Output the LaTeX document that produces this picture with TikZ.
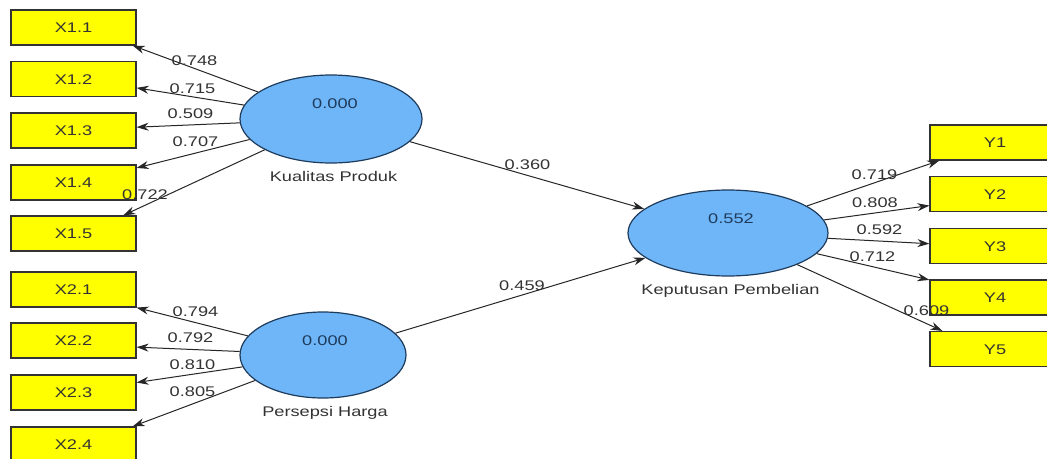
\documentclass[tikz,border=0pt]{standalone}
\usepackage{fontspec}
\setmainfont{Liberation Sans}[FakeStretch=1.3]
\usetikzlibrary{arrows.meta}
\definecolor{boxyellow}{HTML}{FFFF00}
\definecolor{ellblue}{HTML}{6EB6F8}
\definecolor{navy}{HTML}{1F3B5C}
\definecolor{txtgrey}{HTML}{333333}
\tikzset{
  ind/.style={draw=txtgrey, line width=1.2pt, fill=boxyellow, minimum width=125pt, minimum height=35pt, inner sep=0pt, font=\fontsize{14pt}{16pt}\selectfont, text=txtgrey, text height=10pt, text depth=0pt},
  indy/.style={ind, minimum width=130pt},
  lat/.style={ellipse, draw=navy, line width=1.2pt, fill=ellblue, inner sep=0pt},
  val/.style={font=\fontsize{14pt}{16pt}\selectfont, text=navy, text height=10pt, text depth=0pt, inner sep=0pt},
  nm/.style={font=\fontsize{14pt}{16pt}\selectfont, text=txtgrey, text height=10pt, text depth=0pt, inner sep=0pt},
  lbl/.style={font=\fontsize{14pt}{16pt}\selectfont, text=txtgrey, text height=10pt, text depth=0pt, inner sep=0pt},
  arr/.style={draw=black!85, line width=1pt, -{Stealth[length=12pt,width=8pt]}}
}
\usetikzlibrary{shapes.geometric}
\begin{document}
\begin{tikzpicture}[x=1pt,y=-1pt]
\clip (0,0) rectangle (1047,458);
\fill[white] (0,0) rectangle (1047,458);
% indicator boxes
\node[ind] (x11) at (73.5,27.5) {X1.1};
\node[ind] (x12) at (73.5,79) {X1.2};
\node[ind] (x13) at (73.5,130.5) {X1.3};
\node[ind] (x14) at (73.5,182.5) {X1.4};
\node[ind] (x15) at (73.5,233.5) {X1.5};
\node[ind] (x21) at (73.5,289.5) {X2.1};
\node[ind] (x22) at (73.5,340.5) {X2.2};
\node[ind] (x23) at (73.5,392.5) {X2.3};
\node[ind] (x24) at (73.5,444.5) {X2.4};
\node[indy] (y1) at (995,142.5) {Y1};
\node[indy] (y2) at (995,194) {Y2};
\node[indy] (y3) at (995,246) {Y3};
\node[indy] (y4) at (995,297.5) {Y4};
\node[indy] (y5) at (995,349) {Y5};
% latent variables
\node[lat, minimum width=182pt, minimum height=88pt] (kp) at (331,119) {};
\node[lat, minimum width=166pt, minimum height=86pt] (ph) at (323,355) {};
\node[lat, minimum width=200pt, minimum height=86pt] (kep) at (728,233) {};
\node[val] (kpv) at (335,103.5) {0.000};
\node[val] (phv) at (325,340) {0.000};
\node[val] (kepv) at (731,218.5) {0.552};
\node[nm] (kpn) at (333.5,176) {Kualitas Produk};
\node[nm] (phn) at (325,411) {Persepsi Harga};
\node[nm] (kepn) at (730.5,289) {Keputusan Pembelian};
% outer loadings
\draw[arr] (kp) -- (x11.-17);
\draw[arr] (kp) -- (x12.-8);
\draw[arr] (kp) -- (x13.3);
\draw[arr] (kp) -- (x14.13);
\draw[arr] (kp) -- (x15.20);
\draw[arr] (ph) -- (x21.-16);
\draw[arr] (ph) -- (x22.-6);
\draw[arr] (ph) -- (x23.9);
\draw[arr] (ph) -- (x24.17);
\draw[arr] (kep) -- (y1.198);
\draw[arr] (kep) -- (y2.190);
\draw[arr] (kep) -- (y3.178);
\draw[arr] (kep) -- (y4.165);
\draw[arr] (kep) -- (y5.161);
% paths
\draw[arr] (kp) -- (kep);
\draw[arr] (ph) -- (kep);
% labels
\node[lbl] (l1) at (194.5,60) {0.748};
\node[lbl] (l2) at (192.5,88) {0.715};
\node[lbl] (l3) at (190.5,113) {0.509};
\node[lbl] (l4) at (195.5,141) {0.707};
\node[lbl] (l5) at (145,194) {0.722};
\node[lbl] (l6) at (195.5,311) {0.794};
\node[lbl] (l7) at (190.5,337) {0.792};
\node[lbl] (l8) at (192.5,364) {0.810};
\node[lbl] (l9) at (192.5,391) {0.805};
\node[lbl] (l10) at (527.5,164) {0.360};
\node[lbl] (l11) at (522,285) {0.459};
\node[lbl] (l12) at (874.5,174) {0.719};
\node[lbl] (l13) at (875,202) {0.808};
\node[lbl] (l14) at (879.5,229) {0.592};
\node[lbl] (l15) at (872.5,256) {0.712};
\node[lbl] (l16) at (926.5,310) {0.609};
\end{tikzpicture}
\end{document}
